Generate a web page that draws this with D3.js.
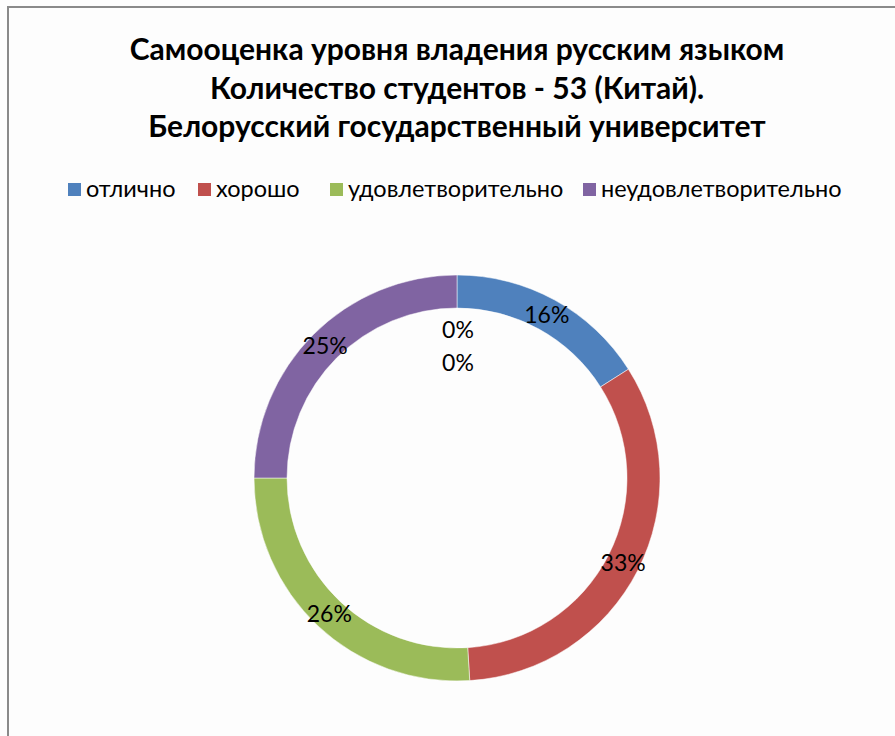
<!DOCTYPE html>
<html>
<head>
<meta charset="utf-8">
<script src="https://cdn.jsdelivr.net/npm/d3@7"></script>
<style>
  html, body { margin: 0; padding: 0; background: #fff; }
  svg { display: block; font-family: Lato, "Open Sans", sans-serif; }
</style>
</head>
<body>
<div id="chart"></div>
<script>
  const titleLines = [
    "Самооценка уровня владения русским языком",
    "Количество студентов - 53 (Китай).",
    "Белорусский государственный университет"
  ];
  const categories = ["отлично", "хорошо", "удовлетворительно", "неудовлетворительно"];
  const colors = ["#4f81bd", "#c0504d", "#9bbb59", "#8064a2"];
  const shares = [16, 33, 26, 25];
  // two inner rings in the source have only zero values; only their "0%" labels show
  const emptyRings = [[0, 0, 0, 0], [0, 0, 0, 0]];

  const width = 895;
  const height = 736;
  const cx = 457;
  const cy = 478;
  const outerR = 203;
  const ringW = 33;

  const svg = d3.select("#chart")
    .append("svg")
    .attr("width", width)
    .attr("height", height);

  svg.append("rect")
    .attr("width", width)
    .attr("height", height)
    .attr("fill", "#fdfdfd");

  // frame of the chart area, cut by the page edges
  svg.append("path")
    .attr("d", `M8,${height + 2} V7 H${width + 2}`)
    .attr("fill", "none")
    .attr("stroke", "#8a8a8a")
    .attr("stroke-width", 2);

  svg.append("g")
    .selectAll("text")
    .data(titleLines)
    .join("text")
    .attr("x", cx)
    .attr("y", (d, i) => 60 + i * 38.5)
    .attr("text-anchor", "middle")
    .attr("font-size", 30)
    .attr("font-weight", "bold")
    .attr("fill", "#000")
    .text(d => d);

  const legendX = [68, 198, 330, 583];
  const legend = svg.append("g")
    .selectAll("g")
    .data(categories)
    .join("g")
    .attr("transform", (d, i) => `translate(${legendX[i]},183)`);

  legend.append("rect")
    .attr("width", 13)
    .attr("height", 13)
    .attr("fill", (d, i) => colors[i]);

  legend.append("text")
    .attr("x", 18)
    .attr("y", 14)
    .attr("font-size", 23.5)
    .attr("fill", "#000")
    .text(d => d);

  const pie = d3.pie().sort(null).value(d => d);
  const chart = svg.append("g").attr("transform", `translate(${cx},${cy})`);

  const arc = d3.arc()
    .innerRadius(outerR - ringW)
    .outerRadius(outerR);

  const slices = pie(shares);

  chart.append("g")
    .selectAll("path")
    .data(slices)
    .join("path")
    .attr("d", arc)
    .attr("fill", (d, i) => colors[i])
    .attr("stroke", "#fff")
    .attr("stroke-width", 0.5);

  const total = d3.sum(shares);
  chart.append("g")
    .selectAll("text")
    .data(slices)
    .join("text")
    .attr("transform", d => `translate(${arc.centroid(d)})`)
    .attr("dy", "0.35em")
    .attr("text-anchor", "middle")
    .attr("font-size", 23)
    .attr("fill", "#000")
    .text(d => Math.round(d.value / total * 100) + "%");

  // zero rings: only first data point label is visible
  emptyRings.forEach((ring, k) => {
    const r0 = outerR - ringW * (k + 2);
    const ringArc = d3.arc().innerRadius(r0).outerRadius(r0 + ringW);
    const first = { startAngle: 0, endAngle: 0 };
    const [, y] = ringArc.centroid(first);
    chart.append("text")
      .attr("x", 1)
      .attr("y", y + 5)
      .attr("dy", "0.35em")
      .attr("text-anchor", "middle")
      .attr("font-size", 23)
      .attr("fill", "#000")
      .text(ring[0] + "%");
  });
</script>
</body>
</html>
